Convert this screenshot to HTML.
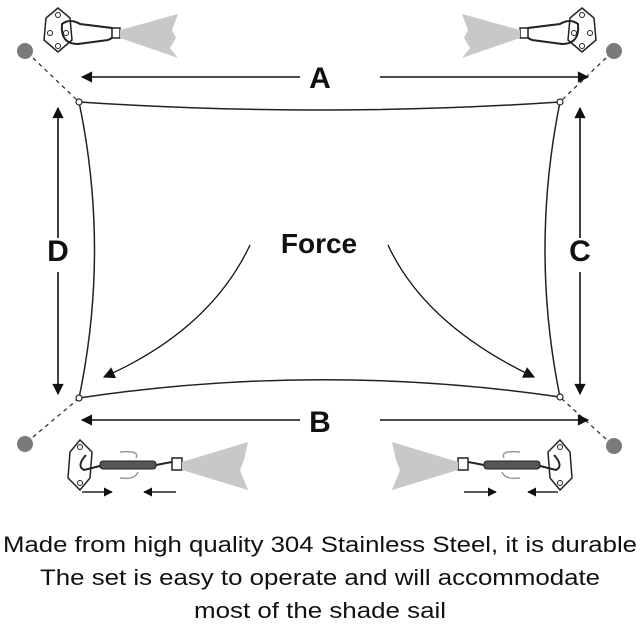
<!DOCTYPE html>
<html><head><style>html,body{margin:0;padding:0;background:#fff}svg{display:block}</style></head>
<body>
<svg width="640" height="640" viewBox="0 0 640 640" xmlns="http://www.w3.org/2000/svg">
<defs>
<marker id="ah" viewBox="0 0 10 10" refX="9" refY="5" markerWidth="8" markerHeight="7" orient="auto"><path d="M0,0 L10,5 L0,10 z" fill="#111"/></marker>
<marker id="ah2" viewBox="0 0 10 10" refX="9" refY="5" markerWidth="10" markerHeight="9" orient="auto"><path d="M0,0 L10,5 L0,10 z" fill="#111"/></marker>
<marker id="ahs" viewBox="0 0 10 10" refX="9" refY="5" markerWidth="6" markerHeight="6" orient="auto"><path d="M0,0 L10,5 L0,10 z" fill="#111"/></marker>
<g id="tl">
  <path d="M58,8 L70,18 L72,40 L58,52 L44,40 L46,18 Z" fill="#fff" stroke="#222" stroke-width="1.5"/>
  <circle cx="58" cy="15" r="2.5" fill="none" stroke="#222"/><circle cx="50" cy="33" r="2.5" fill="none" stroke="#222"/><circle cx="66" cy="33" r="2.5" fill="none" stroke="#222"/><circle cx="58" cy="46" r="2.5" fill="none" stroke="#222"/>
  <path d="M62,24 Q60,44 78,44 L108,40 Q118,36 112,28 L80,24 Q70,18 62,24 Z" fill="none" stroke="#222" stroke-width="2"/>
  <rect x="112" y="28" width="8" height="10" fill="#fff" stroke="#222" stroke-width="1.5"/>
  <path d="M120,30 L178,14 L172,30 L176,38 L170,48 L178,58 L120,38 Z" fill="#c8c8c8"/>
</g>
<g id="bl">
  <path d="M80,440 L92,452 L90,478 L80,490 L68,478 L70,452 Z" fill="#fff" stroke="#222" stroke-width="1.5"/>
  <circle cx="80" cy="447" r="2.5" fill="none" stroke="#222"/><circle cx="80" cy="483" r="2.5" fill="none" stroke="#222"/>
  <path d="M86,455 Q76,466 84,470 L100,466" fill="none" stroke="#222" stroke-width="2"/>
  <rect x="100" y="461" width="56" height="8" rx="3" fill="#555" stroke="#222"/>
  <path d="M120,452 Q140,450 136,458 M120,478 Q135,480 138,472" fill="none" stroke="#999" stroke-width="1.5"/>
  <path d="M156,465 L172,462 Q178,456 180,460" fill="none" stroke="#222" stroke-width="2"/>
  <rect x="172" y="458" width="10" height="12" fill="#fff" stroke="#222" stroke-width="1.5"/>
  <path d="M182,462 L248,442 L244,460 L240,470 L248,490 L182,470 Z" fill="#c8c8c8"/>
  <line x1="82" y1="492" x2="112" y2="492" stroke="#222" stroke-width="1.5" marker-end="url(#ahs)"/>
  <line x1="176" y1="492" x2="144" y2="492" stroke="#222" stroke-width="1.5" marker-end="url(#ahs)"/>
</g>
</defs>
<use href="#tl"/>
<use href="#tl" transform="translate(640,0) scale(-1,1)"/>
<use href="#bl"/>
<use href="#bl" transform="translate(640,0) scale(-1,1)"/>
<g fill="#7a7a7a"><circle cx="25" cy="51" r="8"/><circle cx="614" cy="51" r="8"/><circle cx="25" cy="444" r="8"/><circle cx="614" cy="446" r="8"/></g>
<g stroke="#333" stroke-width="1.3" stroke-dasharray="4,4"><line x1="33" y1="58" x2="77" y2="100"/><line x1="606" y1="58" x2="562" y2="100"/><line x1="33" y1="437" x2="77" y2="400"/><line x1="606" y1="439" x2="562" y2="399"/></g>
<path d="M79,102 Q320,118 560,102 Q530,250 560,397 Q320,362 79,398 Q110,250 79,102 Z" fill="none" stroke="#222" stroke-width="1.5"/>
<g fill="#fff" stroke="#222" stroke-width="1.2"><circle cx="79" cy="102" r="3"/><circle cx="560" cy="102" r="3"/><circle cx="79" cy="398" r="3"/><circle cx="560" cy="397" r="3"/></g>
<g stroke="#111" stroke-width="1.6" marker-end="url(#ah)" fill="none">
<line x1="300" y1="77" x2="82" y2="77"/><line x1="380" y1="77" x2="588" y2="77"/>
<line x1="300" y1="420" x2="82" y2="420"/><line x1="380" y1="420" x2="588" y2="420"/>
<line x1="58" y1="238" x2="58" y2="108"/><line x1="58" y1="272" x2="58" y2="394"/>
<line x1="580" y1="238" x2="580" y2="108"/><line x1="580" y1="272" x2="580" y2="394"/>
</g>
<g stroke="#111" stroke-width="1.3" fill="none" marker-end="url(#ah2)">
<path d="M250,245 Q210,330 104,377"/>
<path d="M388,245 Q425,325 534,377"/>
</g>
<g font-family="Liberation Sans, sans-serif" font-weight="bold" fill="#111" text-anchor="middle">
<text x="320" y="88" font-size="30">A</text>
<text x="320" y="432" font-size="30">B</text>
<text x="58" y="261" font-size="30">D</text>
<text x="580" y="261" font-size="30">C</text>
<text x="319" y="253" font-size="28">Force</text>
</g>
<g font-family="Liberation Sans, sans-serif" font-size="22" fill="#111" text-anchor="middle">
<text x="320" y="552" textLength="634" lengthAdjust="spacingAndGlyphs">Made from high quality 304 Stainless Steel, it is durable</text>
<text x="320" y="585" textLength="560" lengthAdjust="spacingAndGlyphs">The set is easy to operate and will accommodate</text>
<text x="320" y="618" textLength="252" lengthAdjust="spacingAndGlyphs">most of the shade sail</text>
</g>
</svg>
</body></html>
